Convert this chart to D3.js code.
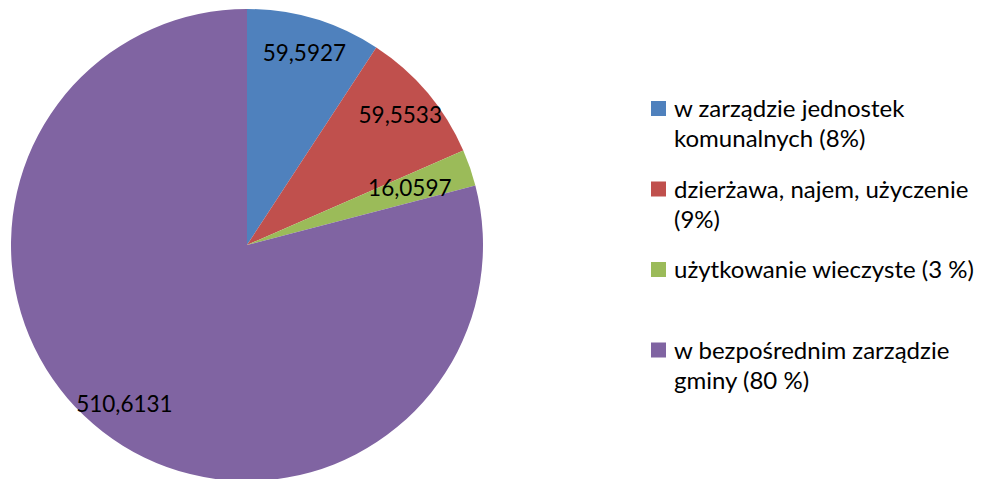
<!DOCTYPE html>
<html>
<head>
<meta charset="utf-8">
<script src="https://cdn.jsdelivr.net/npm/d3@7"></script>
<style>
  body { margin: 0; background: #fff; }
  text { font-family: Lato, "Open Sans", sans-serif; fill: #000; }
</style>
</head>
<body>
<svg id="chart" width="985" height="479"></svg>
<script>
var width = 985;
var height = 479;

// data
var categories = [
    ["w zarządzie jednostek", "komunalnych (8%)"],
    ["dzierżawa, najem, użyczenie", "(9%)"],
    ["użytkowanie wieczyste (3 %)"],
    ["w bezpośrednim zarządzie", "gminy (80 %)"]
];
var values = [59.5927, 59.5533, 16.0597, 510.6131];
var colors = ["#4F81BD", "#C0504D", "#9BBB59", "#8064A2"];

var cx = 247, cy = 245, radius = 236;
var labelSize = 22.5, legendSize = 24;

var svg = d3.select("#chart");

var pie = d3.pie().sort(null).value(function(d) { return d; });
var arcs = pie(values);
var arc = d3.arc().innerRadius(0).outerRadius(radius);

var g = svg.append("g").attr("transform", "translate(" + cx + "," + cy + ")");

g.selectAll("path")
    .data(arcs)
    .enter().append("path")
    .attr("d", arc)
    .style("fill", function(d, i) { return colors[i]; });

function fmt(v) { return String(v).replace(".", ","); }

// value labels near the outer edge, narrow slices pulled further in
function labelRadius(d) {
    return (d.endAngle - d.startAngle) < 0.3 ? radius * 0.73 : radius * 0.85;
}
var labelArc = d3.arc()
    .innerRadius(function(d) { return labelRadius(d); })
    .outerRadius(function(d) { return labelRadius(d); });

g.selectAll("text.val")
    .data(arcs)
    .enter().append("text")
    .attr("class", "val")
    .style("font-size", labelSize + "px")
    .attr("text-anchor", "middle")
    .attr("dy", "0.35em")
    .attr("transform", function(d) { return "translate(" + labelArc.centroid(d) + ")"; })
    .text(function(d) { return fmt(d.data); });

// legend
var legendX = 651, legendY = 117, itemStep = 80.5, lineStep = 30;

var legend = svg.append("g");
var items = legend.selectAll("g")
    .data(categories)
    .enter().append("g")
    .attr("transform", function(d, i) { return "translate(" + legendX + "," + (legendY + i * itemStep) + ")"; });

items.append("rect")
    .attr("x", 0)
    .attr("y", -16)
    .attr("width", 15)
    .attr("height", 15)
    .style("fill", function(d, i) { return colors[i]; });

items.each(function(lines) {
    var t = d3.select(this).append("text")
        .style("font-size", legendSize + "px");
    t.selectAll("tspan")
        .data(lines)
        .enter().append("tspan")
        .attr("x", 23)
        .attr("y", function(l, j) { return j * lineStep; })
        .text(function(l) { return l; });
});
</script>
</body>
</html>
